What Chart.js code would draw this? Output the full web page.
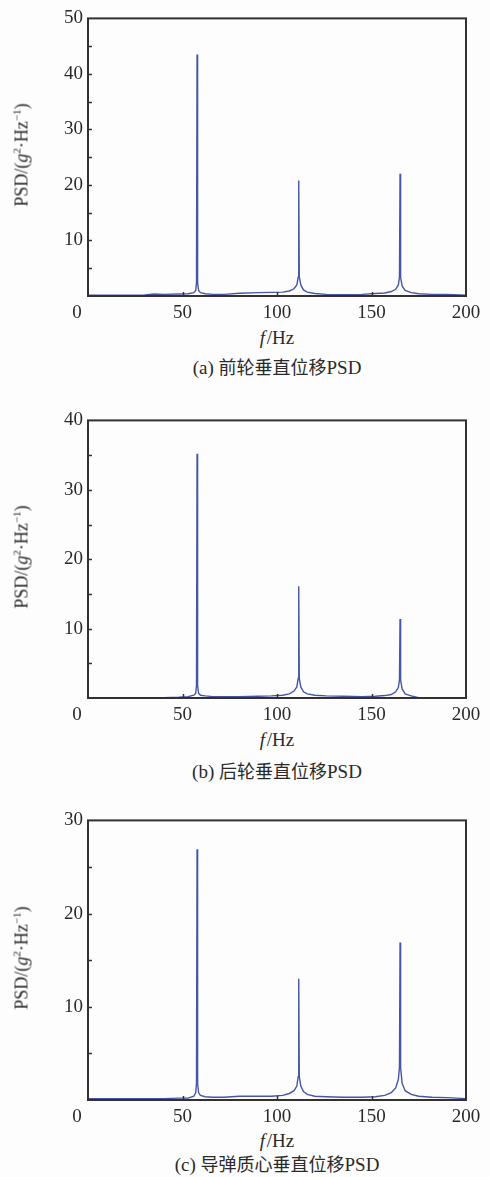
<!DOCTYPE html>
<html>
<head>
<meta charset="utf-8">
<script src="https://cdn.jsdelivr.net/npm/chart.js@4.4.1/dist/chart.umd.min.js"></script>
<style>
  html, body { margin: 0; padding: 0; background: #fdfdfd; }
  body { width: 490px; height: 1177px; position: relative; overflow: hidden;
         font-family: "Liberation Serif", "DejaVu Serif", serif; color: #2a2a2a; }
  .clip { position: absolute; left: 0; width: 481px; overflow: hidden; }
  .box { position: relative; width: 490px; }
  .lbl { position: absolute; transform: translate(-50%, -50%); white-space: nowrap; font-size: 19px; }
  .cap { font-size: 19px; }
  .cap .cjk { font-family: "Noto Sans CJK SC", sans-serif; font-size: 18px; }
  .ytitle { position: absolute; transform: translate(-50%, -50%) rotate(-90deg); white-space: nowrap; font-size: 18px; }
  sup { font-size: 11px; vertical-align: 7px; line-height: 0; }
</style>
</head>
<body>

<script>
// --- PSD data: frequency (Hz) shared by the three responses ---
const freqHz = [0, 10, 20, 30, 35, 40, 48, 53, 56, 57,
                57.4, 57.7, 58.0, 58.5, 59.5, 62, 66, 72, 80, 90,
                97, 103, 106.5, 109, 110.5, 111.2, 111.5, 111.8, 112.6, 114,
                116, 120, 126, 135, 145, 152, 157, 160.5, 162.8, 164.2,
                164.8, 165.1, 165.4, 166.2, 167.8, 171, 175, 182, 190, 200];

// (a) front wheel vertical displacement
const psdFront = [0.15, 0.15, 0.15, 0.2, 0.35, 0.3, 0.35, 0.4, 0.6, 1.0,
                  2.4, 43.5, 2.4, 1.0, 0.6, 0.4, 0.3, 0.3, 0.5, 0.6,
                  0.65, 0.7, 0.9, 1.3, 2.0, 3.4, 20.8, 3.4, 2.0, 1.1,
                  0.7, 0.45, 0.3, 0.25, 0.3, 0.45, 0.55, 0.8, 1.2, 2.0,
                  3.4, 22.0, 3.4, 1.8, 1.0, 0.6, 0.4, 0.3, 0.3, 0.15];

// (b) rear wheel vertical displacement
const psdRear = [0.05, 0.05, 0.05, 0.05, 0.05, 0.05, 0.1, 0.2, 0.4, 0.7,
                 1.8, 35.2, 1.8, 0.7, 0.4, 0.3, 0.2, 0.2, 0.2, 0.25,
                 0.3, 0.4, 0.6, 1.0, 1.6, 2.8, 16.1, 2.8, 1.6, 0.9,
                 0.6, 0.4, 0.3, 0.25, 0.2, 0.25, 0.35, 0.5, 0.9, 1.5,
                 2.6, 11.4, 2.6, 1.3, 0.6, 0.3, 0.05, 0, 0, 0];

// (c) missile centre-of-mass vertical displacement
const psdMissile = [0.15, 0.15, 0.15, 0.15, 0.15, 0.15, 0.2, 0.2, 0.4, 0.8,
                    1.8, 26.9, 1.8, 0.8, 0.5, 0.35, 0.3, 0.3, 0.4, 0.4,
                    0.4, 0.5, 0.7, 1.0, 1.5, 2.5, 13.0, 2.5, 1.5, 0.9,
                    0.6, 0.4, 0.35, 0.3, 0.3, 0.35, 0.5, 0.8, 1.3, 2.2,
                    3.5, 16.9, 3.5, 1.8, 1.0, 0.6, 0.4, 0.3, 0.25, 0.15];

const yMaxes = [50, 40, 30];
const xTicks = [0, 50, 100, 150, 200];
const captions = [
  ['(a) ', '前轮垂直位移', 'PSD'],
  ['(b) ', '后轮垂直位移', 'PSD'],
  ['(c) ', '导弹质心垂直位移', 'PSD']
];

// plot area boxes in page pixels, plus label offsets below the x axis
const panels = [
  { top: 14,  bottom: 296,  xlab: 42, cap: 70 },
  { top: 416, bottom: 698,  xlab: 42, cap: 72 },
  { top: 816, bottom: 1100, xlab: 41, cap: 63 }
];
const AREA_LEFT = 88, AREA_RIGHT = 466, PAD_TOP = 12, X_AXIS_H = 30;
const TICK_FONT = { family: 'Liberation Serif', size: 19 };
const LINE_COLOR = '#4656a6';
const FRAME_COLOR = '#352f2f';

// frame, inward tick marks and the shared "0" at the origin corner
const framePlugin = {
  id: 'frame',
  afterDraw(chart) {
    const { ctx, chartArea: a, scales } = chart;
    ctx.save();
    ctx.strokeStyle = FRAME_COLOR;
    ctx.lineWidth = 1.5;
    scales.x.ticks.forEach(t => {
      if (t.value <= scales.x.min || t.value >= scales.x.max) return;
      const px = Math.round(scales.x.getPixelForValue(t.value)) + 0.5;
      ctx.beginPath(); ctx.moveTo(px, a.bottom); ctx.lineTo(px, a.bottom - 4); ctx.stroke();
    });
    scales.y.ticks.forEach(t => {
      if (t.value <= scales.y.min || t.value >= scales.y.max) return;
      const py = Math.round(scales.y.getPixelForValue(t.value)) + 0.5;
      ctx.beginPath(); ctx.moveTo(a.left, py); ctx.lineTo(a.left + 4, py); ctx.stroke();
    });
    ctx.lineWidth = 2;
    ctx.strokeRect(a.left, a.top, a.right - a.left, a.bottom - a.top);
    ctx.fillStyle = '#2a2a2a';
    ctx.font = TICK_FONT.size + 'px "' + TICK_FONT.family + '"';
    ctx.textAlign = 'center';
    ctx.textBaseline = 'middle';
    ctx.fillText('0', a.left - 11, a.bottom + 17);
    ctx.restore();
  }
};

function addLabel(cls, left, top, html) {
  const el = document.createElement('div');
  el.className = cls;
  el.style.left = left + 'px';
  el.style.top = top + 'px';
  el.innerHTML = html;
  document.body.appendChild(el);
}

function makePanel(i, psd) {
  const p = panels[i];
  const canvasTop = p.top - PAD_TOP;
  const h = PAD_TOP + (p.bottom - p.top) + X_AXIS_H;

  const clip = document.createElement('div');
  clip.className = 'clip';
  clip.style.top = canvasTop + 'px';
  clip.style.height = h + 'px';
  const box = document.createElement('div');
  box.className = 'box';
  box.style.height = h + 'px';
  const cv = document.createElement('canvas');
  box.appendChild(cv);
  clip.appendChild(box);
  document.body.appendChild(clip);

  const mid = (AREA_LEFT + AREA_RIGHT) / 2;
  addLabel('lbl', mid, p.bottom + p.xlab, '<i>f</i>&#8202;/Hz');
  addLabel('lbl cap', mid, p.bottom + p.cap,
           captions[i][0] + '<span class="cjk">' + captions[i][1] + '</span>' + captions[i][2]);
  addLabel('ytitle', 22, (p.top + p.bottom) / 2, 'PSD/(<i>g</i><sup>2</sup>·Hz<sup>−1</sup>)');

  const pts = freqHz.map((f, k) => ({ x: f, y: psd[k] }));

  new Chart(cv, {
    type: 'line',
    data: {
      datasets: [{
        data: pts,
        borderColor: LINE_COLOR,
        borderWidth: 1.4,
        pointRadius: 0,
        tension: 0,
        fill: false
      }]
    },
    options: {
      responsive: true,
      maintainAspectRatio: false,
      animation: false,
      events: [],
      layout: { padding: { top: PAD_TOP, right: 490 - AREA_RIGHT, left: 0, bottom: 0 } },
      plugins: { legend: { display: false }, tooltip: { enabled: false } },
      scales: {
        x: {
          type: 'linear',
          min: xTicks[0],
          max: xTicks[xTicks.length - 1],
          afterBuildTicks: s => { s.ticks = xTicks.map(v => ({ value: v })); },
          afterFit: s => { s.height = X_AXIS_H; },
          grid: { display: false, drawTicks: false },
          border: { display: false },
          ticks: {
            padding: 6,
            maxRotation: 0,
            color: '#2a2a2a',
            font: TICK_FONT,
            callback: v => (v === 0 ? '' : v)
          }
        },
        y: {
          min: 0,
          max: yMaxes[i],
          afterFit: s => { s.width = AREA_LEFT; },
          grid: { display: false, drawTicks: false },
          border: { display: false },
          ticks: {
            stepSize: 5,
            padding: 5,
            color: '#2a2a2a',
            font: TICK_FONT,
            callback: v => (v !== 0 && v % 10 === 0 ? v : '')
          }
        }
      }
    },
    plugins: [framePlugin]
  });
}

makePanel(0, psdFront);
makePanel(1, psdRear);
makePanel(2, psdMissile);
</script>
</body>
</html>
